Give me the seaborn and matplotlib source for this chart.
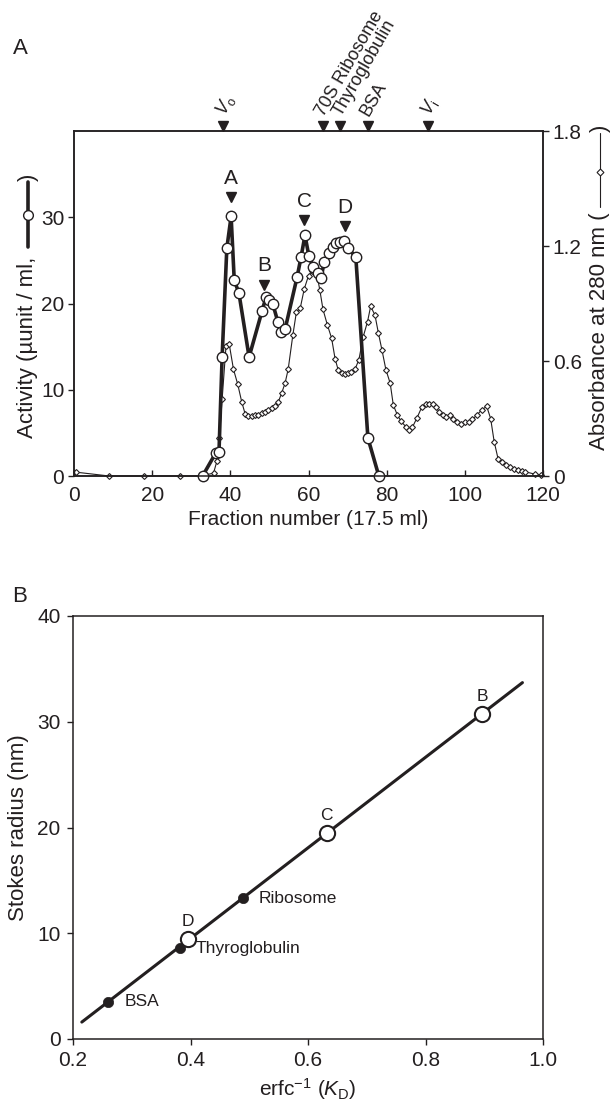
import matplotlib
matplotlib.use("Agg")
import matplotlib.pyplot as plt
import matplotlib.transforms as mtransforms
from matplotlib.lines import Line2D
import seaborn as sns

#  Panel A data: gel filtration profile
act_frac = [32.9, 36.3, 37.1, 37.9, 39.1, 40.2, 41.0, 42.2, 44.8, 48.1, 49.1, 49.9,
            50.9, 52.2, 53.0, 54.0, 57.1, 58.1, 59.1, 60.1, 61.2, 62.4, 63.2, 64.0,
            65.2, 66.2, 67.0, 68.0, 69.1, 70.1, 72.1, 75.2, 78.0]
act_val = [0.0, 2.7, 2.8, 13.8, 26.4, 30.1, 22.7, 21.2, 13.8, 19.1, 20.7, 20.4,
           19.9, 17.8, 16.7, 17.0, 23.1, 25.4, 27.9, 25.5, 24.2, 23.5, 22.9, 24.8,
           25.8, 26.5, 27.0, 27.1, 27.3, 26.4, 25.4, 4.4, 0.0]

abs_frac = [0.5, 9.0, 18.0, 27.0, 32.5, 35.7, 36.6, 37.2, 37.9, 38.9, 39.7, 40.8,
            41.9, 42.9, 43.8, 44.6, 45.5, 46.3, 47.2, 48.0, 48.9, 49.7, 50.6, 51.4,
            52.3, 53.1, 54.0, 54.8, 56.0, 56.9, 57.9, 58.9, 60.0, 61.0, 61.9, 62.9,
            63.7, 64.8, 65.9, 66.8, 67.6, 68.5, 69.3, 70.2, 71.0, 71.9, 72.9, 74.0,
            75.1, 75.9, 77.0, 77.9, 78.8, 79.8, 80.9, 81.7, 82.7, 83.7, 85.0, 85.8,
            86.6, 87.8, 89.0, 90.0, 90.9, 91.8, 92.6, 93.4, 94.3, 95.3, 96.3, 97.1,
            98.1, 99.1, 100.1, 101.1, 101.9, 103.1, 104.3, 105.6, 106.6, 107.5, 108.5,
            109.5, 110.5, 111.5, 112.5, 113.5, 114.5, 115.5, 118.0, 119.5]
abs_val = [0.02, 0.0, 0.0, 0.0, 0.0, 0.015, 0.08, 0.20, 0.40, 0.68, 0.69, 0.557,
           0.478, 0.388, 0.323, 0.313, 0.313, 0.317, 0.320, 0.327, 0.334, 0.344, 0.353, 0.367,
           0.388, 0.431, 0.484, 0.557, 0.736, 0.855, 0.877, 0.975, 1.045, 1.07, 1.078, 0.970,
           0.87, 0.79, 0.72, 0.612, 0.553, 0.536, 0.530, 0.536, 0.544, 0.557, 0.607, 0.727,
           0.805, 0.885, 0.840, 0.744, 0.657, 0.555, 0.484, 0.370, 0.320, 0.285, 0.255, 0.240,
           0.255, 0.305, 0.36, 0.375, 0.375, 0.375, 0.36, 0.335, 0.318, 0.31, 0.318, 0.30,
           0.283, 0.273, 0.283, 0.283, 0.295, 0.318, 0.345, 0.363, 0.30, 0.18, 0.09,
           0.073, 0.055, 0.045, 0.036, 0.033, 0.027, 0.022, 0.009, 0.005]

peak_names = ['A', 'B', 'C', 'D']
peak_frac = [40.2, 48.7, 58.9, 69.3]
peak_mark = [32.3, 22.2, 29.7, 29.0]

std_names = [r'$\mathit{V}_{\mathrm{o}}$', '70S Ribosome', 'Thyroglobulin', 'BSA',
             r'$\mathit{V}_{\mathrm{i}}$']
std_frac = [38.2, 63.6, 68.1, 75.1, 90.5]

#  Panel B data: Stokes radius calibration
pk_names = ['B', 'C', 'D']
pk_kd = [0.896, 0.632, 0.396]
pk_rs = [30.7, 19.5, 9.5]
ref_names = ['Ribosome', 'Thyroglobulin', 'BSA']
ref_kd = [0.489, 0.382, 0.26]
ref_rs = [13.3, 8.6, 3.5]
fit_kd = [0.215, 0.965]
fit_rs = [1.6, 33.7]

sns.set_style("ticks")
INK = '#231f20'
plt.rcParams['font.family'] = ['Liberation Sans', 'DejaVu Sans']
plt.rcParams.update({
    'mathtext.fontset': 'custom',
    'mathtext.rm': 'Liberation Sans',
    'mathtext.it': 'Liberation Sans:italic',
    'mathtext.bf': 'Liberation Sans:bold',
    'text.color': INK, 'axes.labelcolor': INK, 'axes.edgecolor': INK,
    'xtick.color': INK, 'ytick.color': INK, 'axes.linewidth': 1.1,
})

W, H = 610, 1106
fig = plt.figure(figsize=(W / 100, H / 100), dpi=100)


def box(l, t, r, b):
    return [l / W, 1 - b / H, (r - l) / W, (b - t) / H]


#  Panel A
ax = fig.add_axes(box(74, 131, 543, 476))
ax2 = ax.twinx()
sns.lineplot(x=abs_frac, y=abs_val, ax=ax2, color=INK, lw=0.8, marker='D', markersize=3,
             markerfacecolor='white', markeredgecolor=INK, markeredgewidth=0.8,
             estimator=None, sort=False, clip_on=False)
sns.lineplot(x=act_frac, y=act_val, ax=ax, color=INK, lw=2.6, marker='o', markersize=7.5,
             markerfacecolor='white', markeredgecolor=INK, markeredgewidth=1.0,
             estimator=None, sort=False, clip_on=False)
ax.set_zorder(ax2.get_zorder() + 1)
ax.patch.set_visible(False)

ax.set_xlim(0, 120)
ax.set_ylim(0, 40)
ax2.set_ylim(0, 1.8)
ax.set_xticks([0, 20, 40, 60, 80, 100, 120])
ax.set_yticks([0, 10, 20, 30])
ax2.set_yticks([0, 0.6, 1.2, 1.8], ['0', '0.6', '1.2', '1.8'])
ax.tick_params(axis='x', direction='in', length=4, width=1, labelsize=15, pad=7)
ax.tick_params(axis='y', direction='out', length=4, width=1, labelsize=15, pad=3)
ax2.tick_params(axis='y', direction='out', length=4, width=1, labelsize=15, pad=3)
ax.set_xlabel('Fraction number (17.5 ml)', fontsize=15, labelpad=4)
ax.set_ylabel('')
ax2.set_ylabel('')

# peak markers A-D
ax.plot(peak_frac, peak_mark, ls='none', marker='v', ms=6.5, color=INK)
for name, f, m in zip(peak_names, peak_frac, peak_mark):
    ax.annotate(name, xy=(f, m), xytext=(0, 13.5), textcoords='offset points',
                ha='center', va='center', fontsize=15)

# standards on top axis
top = mtransforms.offset_copy(ax.get_xaxis_transform(), fig=fig, y=5, units='dots')
ax.plot(std_frac, [1] * len(std_frac), transform=top, ls='none', marker='v', ms=6.5,
        color=INK, clip_on=False)
for name, f in zip(std_names, std_frac):
    ax.annotate(name, xy=(f, 1), xycoords=ax.get_xaxis_transform(), xytext=(-2, 12),
                textcoords='offset points', rotation=60, rotation_mode='anchor',
                ha='left', va='center', fontsize=13)

# axis titles with line-style keys
xl = 28 / W
fig.text(xl, 1 - 257 / H, 'Activity (µunit / ml,', rotation=90, ha='center', va='top',
         fontsize=16)
fig.add_artist(Line2D([xl, xl], [1 - 247 / H, 1 - 182 / H], transform=fig.transFigure,
                      color=INK, lw=2.6))
fig.add_artist(Line2D([xl], [1 - 215 / H], transform=fig.transFigure, marker='o', ms=7,
                      mfc='white', mec=INK, mew=1))
fig.text(xl, 1 - 181 / H, ')', rotation=90, ha='center', va='bottom', fontsize=16)

xr = 600 / W
fig.text(xr, 1 - 212 / H, 'Absorbance at 280 nm (', rotation=90, ha='center', va='top',
         fontsize=16)
fig.add_artist(Line2D([xr, xr], [1 - 207 / H, 1 - 133 / H], transform=fig.transFigure,
                      color=INK, lw=0.8))
fig.add_artist(Line2D([xr], [1 - 172 / H], transform=fig.transFigure, marker='D', ms=3.5,
                      mfc='white', mec=INK, mew=0.8))
fig.text(xr, 1 - 132 / H, ')', rotation=90, ha='center', va='bottom', fontsize=16)

#  Panel B
bx = fig.add_axes(box(73, 616, 543, 1039))
sns.lineplot(x=fit_kd, y=fit_rs, ax=bx, color=INK, lw=2.2, estimator=None, sort=False)
sns.scatterplot(x=ref_kd, y=ref_rs, ax=bx, color=INK, s=55, edgecolor=INK, linewidth=0.5,
                zorder=3)
sns.scatterplot(x=pk_kd, y=pk_rs, ax=bx, color='white', s=120, edgecolor=INK, linewidth=1.5,
                zorder=4)
for name, k, r in zip(pk_names, pk_kd, pk_rs):
    bx.annotate(name, xy=(k, r), xytext=(0, 12.5), textcoords='offset points',
                ha='center', va='center', fontsize=12.5)
for name, k, r in zip(ref_names, ref_kd, ref_rs):
    bx.annotate(name, xy=(k, r), xytext=(11.5, 0), textcoords='offset points',
                ha='left', va='center', fontsize=12.5)

bx.set_xlim(0.2, 1.0)
bx.set_ylim(0, 40)
bx.set_xticks([0.2, 0.4, 0.6, 0.8, 1.0], ['0.2', '0.4', '0.6', '0.8', '1.0'])
bx.set_yticks([0, 10, 20, 30, 40])
bx.tick_params(direction='out', length=4, width=1, labelsize=15, pad=5)
bx.set_xlabel(r'erfc$^{-1}$ ($K_{\mathrm{D}}$)', fontsize=15, labelpad=4)
bx.set_ylabel('Stokes radius (nm)', fontsize=16, labelpad=6)

fig.text(20 / W, 1 - 48 / H, 'A', fontsize=16, ha='center', va='center')
fig.text(20 / W, 1 - 597 / H, 'B', fontsize=16, ha='center', va='center')

fig.savefig('out.png', dpi=100)
